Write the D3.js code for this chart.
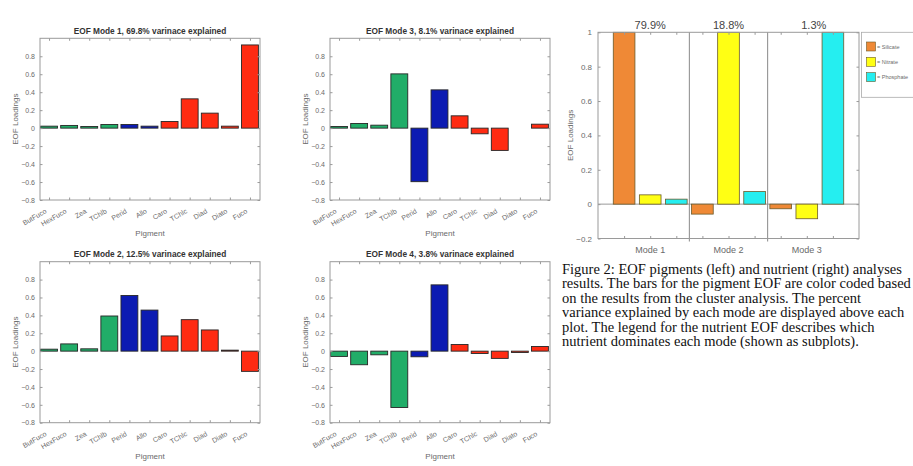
<!DOCTYPE html>
<html>
<head>
<meta charset="utf-8">
<script src="https://cdn.jsdelivr.net/npm/d3@7"></script>
<style>
  html, body { margin: 0; padding: 0; background: #fff; }
  svg { display: block; }
</style>
</head>
<body>
<script>
// ---------- DATA ----------
const pigments = ["ButFuco","HexFuco","Zea","TChlb","Perid","Allo","Caro","TChlc","Diad","Diato","Fuco"];
const pigmentCluster = ["green","green","green","green","blue","blue","red","red","red","red","red"];
const eofTitles = [
  "EOF Mode 1, 69.8% varinace explained",
  "EOF Mode 2, 12.5% varinace explained",
  "EOF Mode 3, 8.1% varinace explained",
  "EOF Mode 4, 3.8% varinace explained"
];
const mode1 = [0.022, 0.030, 0.018, 0.040, 0.040, 0.022, 0.074, 0.326, 0.167, 0.022, 0.926];
const mode2 = [0.022, 0.081, 0.026, 0.393, 0.622, 0.459, 0.170, 0.352, 0.237, 0.011, -0.226];
const mode3 = [0.018, 0.052, 0.033, 0.604, -0.596, 0.426, 0.137, -0.063, -0.248, 0.000, 0.044];
const mode4 = [-0.059, -0.152, -0.041, -0.630, -0.063, 0.741, 0.074, -0.026, -0.081, -0.015, 0.052];
const pigmentTicks = [-0.8, -0.6, -0.4, -0.2, 0, 0.2, 0.4, 0.6, 0.8];

const nutrientModes = ["Mode 1","Mode 2","Mode 3"];
const nutrientPct = ["79.9%","18.8%","1.3%"];
const nutrients = ["Silicate","Nitrate","Phosphate"];
const silicate  = [1.000, -0.058, -0.027];
const nitrate   = [0.054, 1.000, -0.085];
const phosphate = [0.029, 0.073, 1.000];
const nutrientTicks = [-0.2, 0, 0.2, 0.4, 0.6, 0.8, 1];

const captionLines = [
  "Figure 2: EOF pigments (left) and nutrient (right) analyses",
  "results. The bars for the pigment EOF are color coded based",
  "on the results from the cluster analysis. The percent",
  "variance explained by each mode are displayed above each",
  "plot. The legend for the nutrient EOF describes which",
  "nutrient dominates each mode (shown as subplots)."
];

// ---------- STYLE ----------
const clusterColor = { green: "#21ad68", blue: "#0c1bb2", red: "#ff2b12" };
const nutrientColor = { Silicate: "#ef8936", Nitrate: "#ffff14", Phosphate: "#25eef0" };
const axisGray = "#9a9a9a";
const textGray = "#6a6a6a";
const sans = "Arial, 'Liberation Sans', Helvetica, sans-serif";

const W = 913, H = 466;
const svg = d3.select("body").append("svg").attr("width", W).attr("height", H);
svg.append("rect").attr("width", W).attr("height", H).attr("fill", "#fff");

// ---------- PIGMENT PANELS ----------
const panels = [
  { values: mode1, title: eofTitles[0], x0: 40,  x1: 260, y0: 38.3,  y1: 200 },
  { values: mode3, title: eofTitles[2], x0: 330, x1: 550, y0: 38.3,  y1: 200 },
  { values: mode2, title: eofTitles[1], x0: 40,  x1: 260, y0: 261.7, y1: 422.7 },
  { values: mode4, title: eofTitles[3], x0: 330, x1: 550, y0: 261.7, y1: 422.7 }
];

panels.forEach(p => {
  const g = svg.append("g");
  const x = d3.scaleLinear().domain([0.55, 11.5]).range([p.x0, p.x1]);
  const y = d3.scaleLinear().domain([-0.8, 1.0]).range([p.y1, p.y0]);
  const bw = x(1.42) - x(0.58);

  // bars
  g.selectAll("rect.bar").data(p.values).enter().append("rect")
    .attr("class", "bar")
    .attr("x", (d, i) => x(i + 1) - bw / 2)
    .attr("width", bw)
    .attr("y", d => y(Math.max(0, d)))
    .attr("height", d => d === 0 ? 0 : Math.max(0.8, Math.abs(y(d) - y(0))))
    .attr("fill", (d, i) => clusterColor[pigmentCluster[i]])
    .attr("stroke", d => d === 0 ? "none" : "#262626")
    .attr("stroke-width", 0.9);

  // frame
  g.append("rect").attr("x", p.x0).attr("y", p.y0)
    .attr("width", p.x1 - p.x0).attr("height", p.y1 - p.y0)
    .attr("fill", "none").attr("stroke", axisGray).attr("stroke-width", 1);

  // y axis (left) with inner ticks
  const yAxis = d3.axisLeft(y).tickValues(pigmentTicks).tickSize(-2.5).tickPadding(5)
    .tickFormat(d => d === 0 ? "0" : d3.format(".1f")(d));
  const ya = g.append("g").attr("transform", `translate(${p.x0},0)`).call(yAxis);
  ya.select(".domain").remove();
  ya.selectAll("line").attr("stroke", axisGray);
  ya.selectAll("text").attr("fill", textGray).attr("font-size", 7).attr("font-family", sans);

  // right ticks
  const yr = g.append("g").attr("transform", `translate(${p.x1},0)`).call(d3.axisRight(y).tickValues(pigmentTicks).tickSize(-2.5).tickFormat(""));
  yr.select(".domain").remove();
  yr.selectAll("line").attr("stroke", axisGray);

  // x axis bottom
  const xAxis = d3.axisBottom(x).tickValues(d3.range(1, 12)).tickSize(-2.5)
    .tickFormat((d) => pigments[d - 1]);
  const xa = g.append("g").attr("transform", `translate(0,${p.y1})`).call(xAxis);
  xa.select(".domain").remove();
  xa.selectAll("line").attr("stroke", axisGray);
  xa.selectAll("text")
    .attr("fill", textGray).attr("font-size", 7).attr("font-family", sans)
    .attr("text-anchor", "end")
    .attr("dy", 0).attr("y", 0)
    .attr("transform", "translate(-2.5,12.5) rotate(-30)");

  // top ticks
  const xt = g.append("g").attr("transform", `translate(0,${p.y0})`).call(d3.axisTop(x).tickValues(d3.range(1, 12)).tickSize(-2.5).tickFormat(""));
  xt.select(".domain").remove();
  xt.selectAll("line").attr("stroke", axisGray);

  // title
  g.append("text").attr("x", (p.x0 + p.x1) / 2).attr("y", p.y0 - 4.5)
    .attr("text-anchor", "middle").attr("font-size", 8.3).attr("font-weight", "bold")
    .attr("font-family", sans).attr("fill", "#333").text(p.title);

  // axis labels
  g.append("text").attr("x", (p.x0 + p.x1) / 2).attr("y", p.y1 + 36)
    .attr("text-anchor", "middle").attr("font-size", 8).attr("font-family", sans)
    .attr("fill", textGray).text("Pigment");
  g.append("text")
    .attr("transform", `translate(${p.x0 - 22},${(p.y0 + p.y1) / 2}) rotate(-90)`)
    .attr("text-anchor", "middle").attr("font-size", 8).attr("font-family", sans)
    .attr("fill", textGray).text("EOF Loadings");
});

// ---------- NUTRIENT PANEL ----------
(function () {
  const p = { x0: 598, x1: 859, y0: 32.3, y1: 238.5 };
  const x = d3.scaleLinear().domain([0, 10]).range([p.x0, p.x1]);
  const y = d3.scaleLinear().domain([-0.2, 1.0]).range([p.y1, p.y0]);
  const g = svg.append("g");

  const rows = [];
  nutrientModes.forEach((m, mi) => {
    const vals = [silicate[mi], nitrate[mi], phosphate[mi]];
    vals.forEach((v, ni) => rows.push({ pos: mi * 3 + ni + 1, v, n: nutrients[ni] }));
  });
  const bw = x(0.83) - x(0);

  // zero line
  g.append("line").attr("x1", p.x0).attr("x2", p.x1).attr("y1", y(0)).attr("y2", y(0))
    .attr("stroke", axisGray).attr("stroke-width", 1);

  g.selectAll("rect.nb").data(rows).enter().append("rect")
    .attr("class", "nb")
    .attr("x", d => x(d.pos) - bw / 2)
    .attr("width", bw)
    .attr("y", d => y(Math.max(0, d.v)))
    .attr("height", d => Math.abs(y(d.v) - y(0)))
    .attr("fill", d => nutrientColor[d.n])
    .attr("stroke", "#6b5a2a").attr("stroke-width", 0.8);

  // dividers
  [3.5, 6.5].forEach(v => {
    g.append("line").attr("x1", x(v)).attr("x2", x(v)).attr("y1", p.y0).attr("y2", p.y1 + 3)
      .attr("stroke", "#8a8a8a").attr("stroke-width", 1);
  });

  // frame
  g.append("rect").attr("x", p.x0).attr("y", p.y0).attr("width", p.x1 - p.x0).attr("height", p.y1 - p.y0)
    .attr("fill", "none").attr("stroke", axisGray).attr("stroke-width", 1);

  const ya = g.append("g").attr("transform", `translate(${p.x0},0)`)
    .call(d3.axisLeft(y).tickValues(nutrientTicks).tickSize(-2.5).tickPadding(6)
      .tickFormat(d => d === 0 ? "0" : (d === 1 ? "1" : d3.format(".1f")(d))));
  ya.select(".domain").remove();
  ya.selectAll("line").attr("stroke", axisGray);
  ya.selectAll("text").attr("fill", textGray).attr("font-size", 8).attr("font-family", sans);

  const yr = g.append("g").attr("transform", `translate(${p.x1},0)`)
    .call(d3.axisRight(y).tickValues(nutrientTicks).tickSize(-2.5).tickFormat(""));
  yr.select(".domain").remove();
  yr.selectAll("line").attr("stroke", axisGray);

  const xb = g.append("g").attr("transform", `translate(0,${p.y1})`)
    .call(d3.axisBottom(x).tickValues(d3.range(1, 10)).tickSize(-2.5).tickFormat(""));
  xb.select(".domain").remove();
  xb.selectAll("line").attr("stroke", axisGray);
  const xt = g.append("g").attr("transform", `translate(0,${p.y0})`)
    .call(d3.axisTop(x).tickValues(d3.range(1, 10)).tickSize(-2.5).tickFormat(""));
  xt.select(".domain").remove();
  xt.selectAll("line").attr("stroke", axisGray);

  // mode labels
  nutrientModes.forEach((m, mi) => {
    g.append("text").attr("x", x(mi * 3 + 2)).attr("y", p.y1 + 14.5)
      .attr("text-anchor", "middle").attr("font-size", 9).attr("font-family", sans)
      .attr("fill", textGray).text(m);
    g.append("text").attr("x", x(mi * 3 + 2) + (mi === 2 ? 7 : 0)).attr("y", p.y0 - 3.5)
      .attr("text-anchor", "middle").attr("font-size", 11).attr("font-family", sans)
      .attr("fill", "#444").text(nutrientPct[mi]);
  });

  g.append("text")
    .attr("transform", `translate(${p.x0 - 25},${(p.y0 + p.y1) / 2}) rotate(-90)`)
    .attr("text-anchor", "middle").attr("font-size", 8).attr("font-family", sans)
    .attr("fill", textGray).text("EOF Loadings");

  // legend
  const lg = g.append("g");
  lg.append("rect").attr("x", 861.5).attr("y", 32.3).attr("width", 60).attr("height", 65)
    .attr("fill", "#fff").attr("stroke", "#aaa").attr("stroke-width", 0.8);
  nutrients.forEach((n, i) => {
    const cy = 46.5 + i * 15.3;
    lg.append("rect").attr("x", 866.5).attr("y", cy - 4.5).attr("width", 9).attr("height", 9)
      .attr("fill", nutrientColor[n]).attr("stroke", "#6b5a2a").attr("stroke-width", 0.6);
    lg.append("text").attr("x", 877).attr("y", cy + 2).attr("font-size", 5.5)
      .attr("font-family", sans).attr("fill", textGray).text("= " + n);
  });
})();

// ---------- CAPTION ----------
const cap = svg.append("g");
captionLines.forEach((line, i) => {
  cap.append("text").attr("x", 562).attr("y", 274 + i * 14.4)
    .attr("font-size", 14.5).attr("font-family", "'Liberation Serif', 'Times New Roman', serif")
    .attr("fill", "#111").text(line);
});
</script>
</body>
</html>
